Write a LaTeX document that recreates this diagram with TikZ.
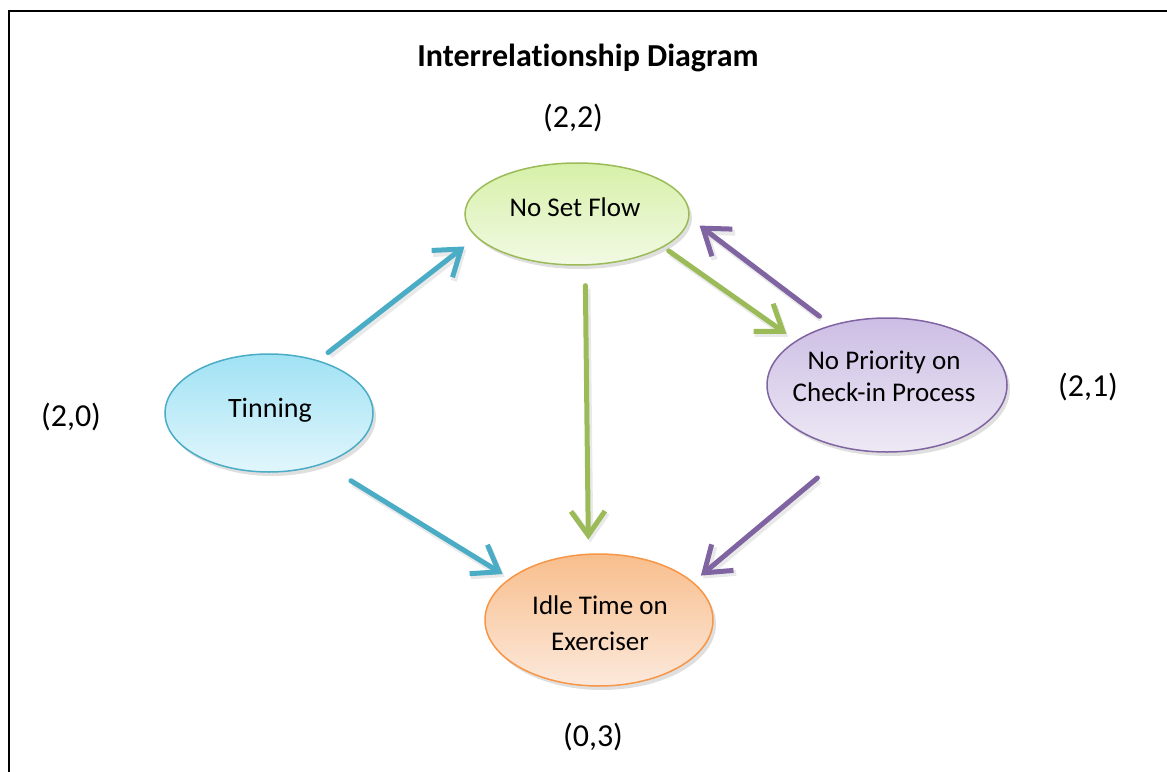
\documentclass[tikz,border=0pt]{standalone}
\usepackage{fontspec}
\setmainfont{Carlito}[Ligatures=NoCommon]
\usetikzlibrary{arrows.meta,shadows,shapes.geometric}
\definecolor{cblue}{RGB}{75,172,198}
\definecolor{cgreen}{RGB}{155,187,89}
\definecolor{cpurple}{RGB}{128,100,162}
\definecolor{corange}{RGB}{247,150,70}
\definecolor{blueTop}{RGB}{160,226,244}
\definecolor{blueBot}{RGB}{225,246,252}
\definecolor{greenTop}{RGB}{214,240,168}
\definecolor{greenBot}{RGB}{242,250,228}
\definecolor{purpleTop}{RGB}{204,190,228}
\definecolor{purpleBot}{RGB}{238,233,245}
\definecolor{orangeTop}{RGB}{248,190,140}
\definecolor{orangeBot}{RGB}{252,233,220}
\begin{document}
\begin{tikzpicture}[x=1bp,y=-1bp,
  bubble/.style={ellipse, inner sep=0pt, line width=1.5bp,
    drop shadow={opacity=0.25,shadow xshift=3bp,shadow yshift=-4bp}},
  lbl/.style={font=\fontsize{27bp}{32bp}\selectfont, align=center, inner sep=0pt},
  coord/.style={font=\fontsize{32bp}{38bp}\selectfont, inner sep=0pt},
  arr/.style={line width=5bp, line cap=round,
    -{Straight Barb[length=24bp,width=34bp]}},
  arrshadow/.style={preaction={draw=black!25, opacity=0.35, line width=6bp, transform canvas={xshift=2bp,yshift=-3bp}}}
]
\useasboundingbox (0,0) rectangle (1167,772);
\clip (0,0) rectangle (1167,772);
\draw[line width=2.5bp] (9,11) rectangle (1190,800);

\node[coord, font=\fontsize{32bp}{38bp}\selectfont\bfseries] (title) at (588,58) {Interrelationship Diagram};

\node[bubble, draw=cgreen, top color=greenTop, bottom color=greenBot,
  minimum width=224bp, minimum height=102bp] (nsf) at (577,214) {};
\node[bubble, draw=cblue, top color=blueTop, bottom color=blueBot,
  minimum width=208bp, minimum height=118bp] (tin) at (269,413) {};
\node[bubble, draw=cpurple, top color=purpleTop, bottom color=purpleBot,
  minimum width=240bp, minimum height=134bp] (pri) at (887,385) {};
\node[bubble, draw=corange, top color=orangeTop, bottom color=orangeBot,
  minimum width=228bp, minimum height=132bp] (idle) at (599,620) {};

\node[lbl] (nsft) at (575,207) {No Set Flow};
\node[lbl, font=\fontsize{28bp}{32bp}\selectfont] (tint) at (270,410) {Tinning};
\node[lbl, font=\fontsize{27bp}{32bp}\selectfont] (prit) at (884,376) {No Priority on\\Check-in Process};
\node[lbl, font=\fontsize{27bp}{36bp}\selectfont] (idlet) at (600,623) {Idle Time on\\Exerciser};

\node[coord] (l22) at (573,118) {(2,2)};
\node[coord] (l20) at (71,417) {(2,0)};
\node[coord] (l21) at (1088,387) {(2,1)};
\node[coord] (l03) at (593,737) {(0,3)};

\draw[arr, cblue, arrshadow, shorten <=12.5bp, shorten >=15bp] (tin.47.5) -- (nsf.193.6);
\draw[arr, cblue, arrshadow, shorten <=32bp, shorten >=8bp] (tin.317.7) -- (idle.155.4);
\draw[arr, cgreen, arrshadow, shorten <=20bp, shorten >=14bp] (nsf.279) -- (idle.99);
\draw[arr, cgreen, arrshadow, shorten <=6.4bp, shorten >=11.5bp] (nsf.339.6) -- (pri.154.8);
\draw[arr, cpurple, arrshadow, shorten <=14.5bp, shorten >=12.7bp] (pri.133.7) -- (nsf.358.9);
\draw[arr, cpurple, arrshadow, shorten <=44bp, shorten >=9.9bp] (pri.241.3) -- (idle.22.7);
\end{tikzpicture}
\end{document}
